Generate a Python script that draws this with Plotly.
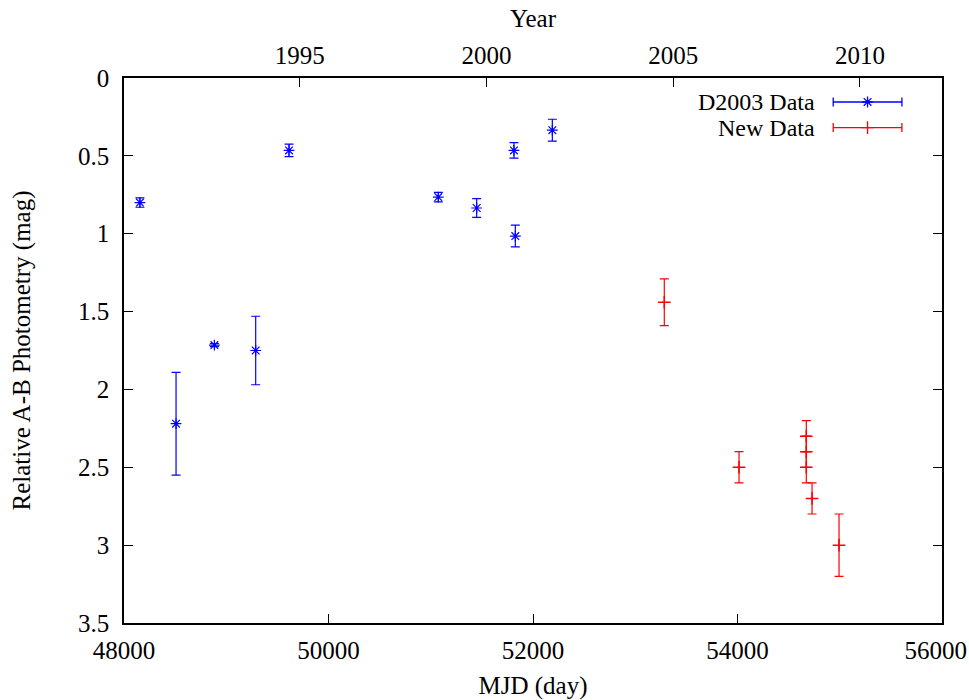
import plotly.graph_objects as go

# ---------------- data ----------------
d2003_mjd = [48156, 48509, 48884, 49288, 49614, 51074, 51449, 51814, 51827, 52189]
d2003_mag = [0.80, 2.22, 1.715, 1.75, 0.465, 0.765, 0.835, 0.465, 1.015, 0.335]
d2003_err = [0.03, 0.33, 0.01, 0.22, 0.04, 0.03, 0.06, 0.05, 0.07, 0.07]

new_mjd = [53284, 54015, 54673, 54673, 54673, 54729, 54993]
new_mag = [1.44, 2.50, 2.30, 2.40, 2.50, 2.70, 3.00]
new_err = [0.15, 0.10, 0.10, 0.10, 0.10, 0.10, 0.20]

mjd_ticks = [48000, 50000, 52000, 54000, 56000]
# last label padded with no-break spaces so it stays inside the window edge
mjd_labels = ["48000", "50000", "52000", "54000", "56000\u00a0\u00a0"]
mag_ticks = [0, 0.5, 1, 1.5, 2, 2.5, 3, 3.5]
mag_labels = ["0", "0.5", "1", "1.5", "2", "2.5", "3", "3.5"]
year_ticks = [1995, 2000, 2005, 2010]
year_labels = ["1995", "2000", "2005", "2010"]
mjd_range = [48000, 56000]
mag_range = [3.5, 0]

def mjd_to_year(m):
    return 2000.0 + (m - 51544.5) / 365.25

year_range = [mjd_to_year(mjd_range[0]), mjd_to_year(mjd_range[1])]

FONT = "Liberation Serif"
FS = 25
KEY_FS = 24
BLUE = "#0000ff"
RED = "#ff0000"

fig = go.Figure()

fig.add_trace(go.Scatter(
    x=d2003_mjd, y=d2003_mag, mode="markers", name="D2003 Data",
    marker=dict(symbol="asterisk-open", size=9, color=BLUE, line=dict(color=BLUE, width=1.2)),
    error_y=dict(type="data", array=d2003_err, visible=True, color=BLUE, thickness=1.2, width=4.5),
    showlegend=False,
))
fig.add_trace(go.Scatter(
    x=new_mjd, y=new_mag, mode="markers", name="New Data",
    marker=dict(symbol="cross-thin-open", size=9, color=RED, line=dict(color=RED, width=1.5)),
    error_y=dict(type="data", array=new_err, visible=True, color=RED, thickness=1.2, width=4.5),
    showlegend=False,
))

# invisible trace to bind the top (Year) axis
fig.add_trace(go.Scatter(x=[year_ticks[0]], y=[None], xaxis="x2", yaxis="y",
                         mode="markers", showlegend=False, hoverinfo="skip",
                         marker=dict(opacity=0)))

# ---- gnuplot-style key (text left, sample right) on an overlay axis in plot fractions ----
key_names = ["D2003 Data", "New Data"]
key_y = [0.956, 0.909]
key_text_x = 0.847
key_sample_x = 0.909
key_half = 0.042
key_syms = [("asterisk-open", BLUE), ("cross-thin-open", RED)]
for name, ky, (sym, col) in zip(key_names, key_y, key_syms):
    fig.add_trace(go.Scatter(
        x=[key_sample_x], y=[ky], xaxis="x3", yaxis="y3", mode="markers",
        marker=dict(symbol=sym, size=9, color=col, line=dict(color=col, width=1.3)),
        error_x=dict(type="constant", value=key_half, color=col, thickness=1.3, width=4.5),
        showlegend=False, hoverinfo="skip",
    ))
    fig.add_annotation(x=key_text_x, y=ky, xref="x3", yref="y3", text=name,
                       showarrow=False, xanchor="right", yanchor="middle",
                       font=dict(family=FONT, size=KEY_FS, color="black"))

axis_common = dict(showgrid=False, zeroline=False, showline=True, linecolor="black",
                   linewidth=1.5, ticks="inside", ticklen=9, tickwidth=1, tickcolor="black",
                   automargin=False, ticklabeloverflow="allow",
                   tickfont=dict(family=FONT, size=FS, color="black"))

fig.update_layout(
    width=969, height=700,
    margin=dict(l=124, r=27, t=78, b=77),
    paper_bgcolor="white", plot_bgcolor="white",
    showlegend=False,
    font=dict(family=FONT, size=FS, color="black"),
    xaxis=dict(range=mjd_range, tickmode="array", tickvals=mjd_ticks, ticktext=mjd_labels, mirror=False,
               title=dict(text="MJD (day)", font=dict(family=FONT, size=FS), standoff=19),
               ticklabelstandoff=4, **axis_common),
    xaxis2=dict(range=year_range, overlaying="x", side="top", anchor="y", tickmode="array",
                tickvals=year_ticks, ticktext=year_labels,
                title=dict(text="Year", font=dict(family=FONT, size=FS), standoff=8),
                ticklabelstandoff=2, **axis_common),
    yaxis=dict(range=mag_range, tickmode="array", tickvals=mag_ticks, ticktext=mag_labels, mirror="ticks",
               title=dict(text="Relative A-B Photometry (mag)", font=dict(family=FONT, size=FS), standoff=40),
               ticklabelstandoff=8, **axis_common),
    xaxis3=dict(range=[0, 1], overlaying="x", visible=False, anchor="y3"),
    yaxis3=dict(range=[0, 1], overlaying="y", visible=False, anchor="x3"),
)

# remove the default 8px page margin so the 969x700 figure fills the window exactly
fig.write_html("out.html", config={"displayModeBar": False},
               post_script="document.body.style.margin='0';document.body.style.overflow='hidden';")
